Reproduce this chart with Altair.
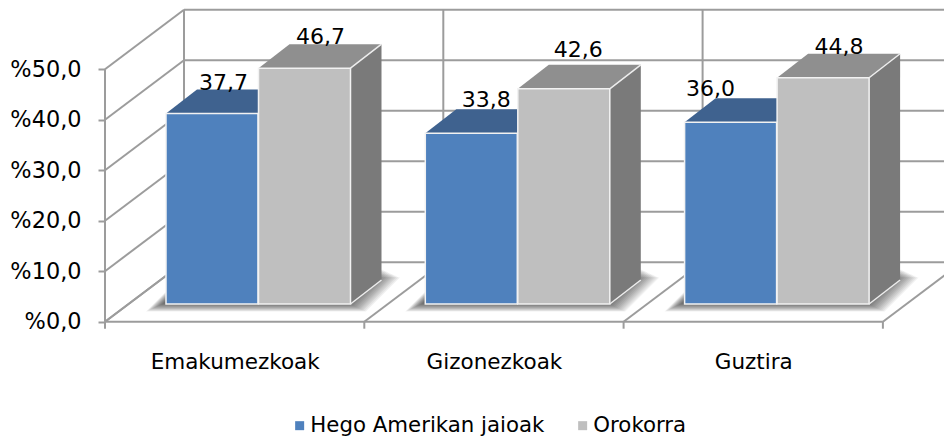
import json
import altair as alt
import pandas as pd

categories = ["Emakumezkoak", "Gizonezkoak", "Guztira"]
series_names = ["Hego Amerikan jaioak", "Orokorra"]
hego_values = [37.7, 33.8, 36.0]
orokorra_values = [46.7, 42.6, 44.8]
tick_values = [0, 10, 20, 30, 40, 50]

# Geometry of the pseudo-3D projection, in data units
CAT_PX, VAL_PX = 259.3, 5.05
WALL_DX, WALL_DY = 79 / CAT_PX, 59.5 / VAL_PX
BAR_DX, BAR_DY = 31 / CAT_PX, 24 / VAL_PX
BAR_START, BAR_W, BAR_GAP = 61 / CAT_PX, 92 / CAT_PX, 0.5 / CAT_PX
BASE = 17.7 / VAL_PX
LABEL_DX = {(0, 0): 11.5, (0, 1): 16, (1, 0): 15, (1, 1): 14.5, (2, 0): -20, (2, 1): 16}
LABEL_UP = {(0, 0): 24, (0, 1): 24.5, (1, 0): 26.5, (1, 1): 32, (2, 0): 26, (2, 1): 24}
W, H = 936, 430
xs = alt.Scale(domain=[(8 - 105) / CAT_PX, (944 - 105) / CAT_PX], range=[0, W], nice=False, zero=False)
ys = alt.Scale(domain=[(321.7 - 438) / VAL_PX, (321.7 - 8) / VAL_PX], range=[H, 0], nice=False, zero=False)
FONT = "DejaVu Sans"
LINE = "#9C9C9C"
COLORS = {"front": ["#4F81BD", "#BFBFBF"], "top": ["#3F628F", "#8F8F8F"], "side": ["#345279", "#7A7A7A"]}

# wall and floor lines
lines = []
n = len(categories)
for v in tick_values:
    lines.append(dict(x=0, y=v, x2=WALL_DX, y2=v + WALL_DY))
    lines.append(dict(x=WALL_DX, y=v + WALL_DY, x2=n + WALL_DX, y2=v + WALL_DY))
for i in range(n + 1):
    lines.append(dict(x=i, y=0, x2=i + WALL_DX, y2=WALL_DY))
    lines.append(dict(x=i + WALL_DX, y=WALL_DY, x2=i + WALL_DX, y2=50 + WALL_DY))
    lines.append(dict(x=i, y=0, x2=i, y2=-7 / VAL_PX))
lines.append(dict(x=0, y=0, x2=n, y2=0))
lines.append(dict(x=0, y=0, x2=0, y2=50))

# shadows, faces
shadow, faces, fronts, edges, labels = [], [], [], [], []
for i in range(n):
    x0 = i + BAR_START
    for step in range(14):
        ins_x, ins_y = step * 1.3 / CAT_PX, step * 0.6 / VAL_PX
        xa = x0 - 20 / CAT_PX + ins_x
        xb = x0 + 2 * BAR_W + 16 / CAT_PX - ins_x
        yb = BASE - 7.5 / VAL_PX + ins_y
        d, h = 34 / CAT_PX, 34 / VAL_PX
        key = f"s{i}-{step}"
        shadow.append(dict(k=key, x=xa, y=yb, y2=yb))
        shadow.append(dict(k=key, x=xa + d, y=yb, y2=yb + h))
        shadow.append(dict(k=key, x=xb, y=yb, y2=yb + h))
        shadow.append(dict(k=key, x=xb + d, y=yb + h, y2=yb + h))
    for s, vals in enumerate([hego_values, orokorra_values]):
        left = x0 + s * (BAR_W + BAR_GAP)
        right = left + BAR_W
        top = BASE + vals[i]
        faces.append(dict(k=f"{s}-{i}-side", o=s * 2, c=COLORS["side"][s], x=right, y=BASE, y2=top))
        faces.append(dict(k=f"{s}-{i}-side", o=s * 2, c=COLORS["side"][s], x=right + BAR_DX, y=BASE + BAR_DY, y2=top + BAR_DY))
        tk = f"{s}-{i}-top"
        faces.append(dict(k=tk, o=s * 2 + 1, c=COLORS["top"][s], x=left, y=top, y2=top))
        faces.append(dict(k=tk, o=s * 2 + 1, c=COLORS["top"][s], x=left + BAR_DX, y=top, y2=top + BAR_DY))
        faces.append(dict(k=tk, o=s * 2 + 1, c=COLORS["top"][s], x=right, y=top, y2=top + BAR_DY))
        faces.append(dict(k=tk, o=s * 2 + 1, c=COLORS["top"][s], x=right + BAR_DX, y=top + BAR_DY, y2=top + BAR_DY))
        fronts.append(dict(series=series_names[s], x=left, x2=right, y=BASE, y2=top))
        if s == 1:
            edges.append(dict(x=right, y=top, x2=right + BAR_DX, y2=top + BAR_DY))
            edges.append(dict(x=right, y=BASE, x2=right + BAR_DX, y2=BASE + BAR_DY))
        labels.append(dict(
            t=f"{vals[i]:.1f}".replace(".", ","),
            x=(left + right) / 2 + LABEL_DX[(i, s)] / CAT_PX,
            y=top + LABEL_UP[(i, s)] / VAL_PX,
        ))

label_expr = json.dumps(categories) + "[floor(datum.value)]"
x_axis = alt.Axis(
    values=[0.5, 1.5, 2.5], labelExpr=label_expr, orient="bottom", offset=-(438 - 321.7),
    domain=False, ticks=False, grid=False, labelFont=FONT, labelFontSize=21.5, labelColor="black",
    labelPadding=41, labelBaseline="middle", labelOverlap=False, labelFlush=False)
y_axis = alt.Axis(
    values=tick_values, labelExpr="'%' + replace(format(datum.value, '.1f'), '.', ',')", orient="left",
    offset=-97, domain=False, grid=False, tickSize=7, tickWidth=2, tickColor=LINE,
    labelFont=FONT, labelFontSize=22.4, labelColor="black", labelPadding=17, labelOverlap=False, labelFlush=False)

X = alt.X("x:Q", scale=xs, axis=x_axis, title=None, stack=False)
Y = alt.Y("y:Q", scale=ys, axis=y_axis, title=None, stack=False)
X2 = alt.X2("x2")
Y2 = alt.Y2("y2")

line_layer = alt.Chart(pd.DataFrame(lines)).mark_rule(color=LINE, strokeWidth=2, clip=True).encode(
    x=X, y=Y, x2=X2, y2=Y2)

shadow_layer = alt.Chart(pd.DataFrame(shadow)).mark_area(color="black", opacity=0.055, interpolate="linear").encode(
    x=X, y=Y, y2=Y2, detail="k:N")

face_layers = []
face_df = pd.DataFrame(faces)
for o in sorted(face_df["o"].unique()):
    face_layers.append(
        alt.Chart(face_df[face_df["o"] == o]).mark_area(interpolate="linear").encode(
            x=X, y=Y, y2=Y2, detail="k:N", color=alt.Color("c:N", scale=None))
    )

front_layer = alt.Chart(pd.DataFrame(fronts)).mark_rect(stroke="#F2F2F2", strokeWidth=1.5).encode(
    x=X, x2=X2, y=Y, y2=Y2,
    color=alt.Color("series:N", scale=alt.Scale(domain=series_names, range=COLORS["front"]),
                    legend=alt.Legend(orient="none", legendX=281, legendY=407, direction="horizontal", columns=2,
                                      title=None, symbolType="square", symbolSize=81, symbolStrokeWidth=0,
                                      labelFont=FONT, labelFontSize=21.3, labelColor="black", labelOffset=0,
                                      labelLimit=400, columnPadding=27, padding=0)),
)

edge_layer = alt.Chart(pd.DataFrame(edges)).mark_rule(color="#EDEDED", strokeWidth=1.5).encode(
    x=X, y=Y, x2=X2, y2=Y2)

label_layer = alt.Chart(pd.DataFrame(labels)).mark_text(
    font=FONT, fontSize=22, color="black", baseline="alphabetic", align="center").encode(x=X, y=Y, text="t:N")

chart = alt.layer(line_layer, shadow_layer, *face_layers, front_layer, edge_layer, label_layer).properties(
    width=W, height=H, padding=0, autosize=alt.AutoSizeParams(type="none"),
    background="white",
).resolve_scale(color="independent").configure_view(stroke=None)

chart.save("out.html", embed_options={"renderer": "svg", "actions": False})
